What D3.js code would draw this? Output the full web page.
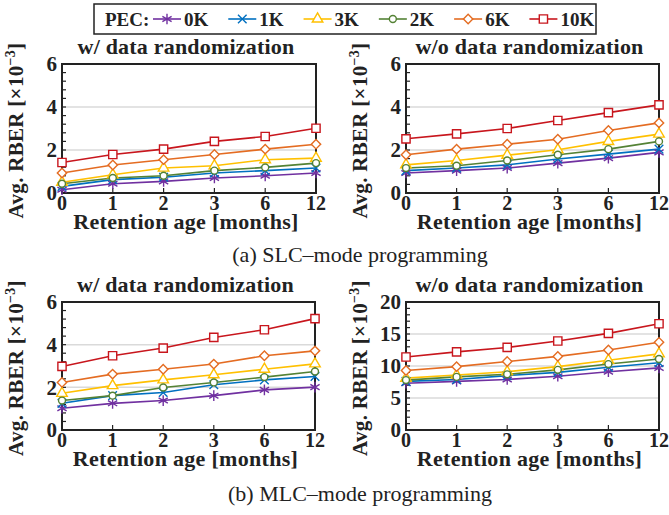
<!DOCTYPE html>
<html>
<head>
<meta charset="utf-8">
<script src="https://cdn.jsdelivr.net/npm/d3@7"></script>
<style>
  body { margin: 0; background: #fff; }
  svg text { font-family: "Liberation Serif", "Times New Roman", serif; fill: #222; }
</style>
</head>
<body>
<div id="app"></div>
<script>
// retention ages (x categories) and PEC series names
const ages = ["0", "1", "2", "3", "6", "12"];
const series = ["0K", "1K", "3K", "2K", "6K", "10K"];
const colors = ["#7030a0", "#0070c0", "#ffc000", "#548235", "#e46c22", "#c8161d"];
const markers = ["asterisk", "times", "triangle", "circle", "diamond", "square"];

// avg RBER [x10^-3], one row per PEC series (same order as `series`)
const slcRand = [
  [0.15, 0.43, 0.54, 0.70, 0.80, 0.93],
  [0.31, 0.62, 0.73, 0.93, 1.04, 1.16],
  [0.50, 0.85, 1.16, 1.27, 1.55, 1.62],
  [0.43, 0.70, 0.80, 1.04, 1.19, 1.39],
  [0.93, 1.30, 1.55, 1.79, 2.04, 2.27],
  [1.42, 1.79, 2.04, 2.40, 2.63, 3.01]
];
const slcNoRand = [
  [0.93, 1.04, 1.16, 1.39, 1.62, 1.89],
  [1.04, 1.16, 1.31, 1.58, 1.81, 2.04],
  [1.31, 1.51, 1.76, 2.01, 2.40, 2.74],
  [1.16, 1.27, 1.51, 1.78, 2.04, 2.40],
  [1.78, 2.04, 2.27, 2.50, 2.91, 3.26],
  [2.52, 2.75, 3.00, 3.37, 3.74, 4.10]
];
const mlcRand = [
  [1.02, 1.25, 1.38, 1.61, 1.88, 2.01],
  [1.25, 1.61, 1.76, 2.12, 2.35, 2.51],
  [1.72, 2.08, 2.35, 2.59, 2.85, 3.10],
  [1.38, 1.61, 1.99, 2.23, 2.48, 2.74],
  [2.23, 2.62, 2.85, 3.09, 3.48, 3.71],
  [2.98, 3.48, 3.84, 4.34, 4.70, 5.22]
];
const mlcNoRand = [
  [7.3, 7.6, 7.9, 8.4, 9.1, 9.7],
  [7.6, 7.9, 8.5, 9.0, 9.8, 10.5],
  [8.1, 8.6, 9.1, 9.9, 10.9, 11.9],
  [7.8, 8.3, 8.7, 9.4, 10.3, 11.1],
  [9.3, 9.9, 10.7, 11.5, 12.5, 13.7],
  [11.4, 12.2, 12.9, 13.9, 15.1, 16.6]
];

const titles = ["w/ data randomization", "w/o data randomization"];
const captions = ["(a) SLC\u2013mode programming", "(b) MLC\u2013mode programming"];

const W = 669, H = 515;
const FS = 21; // bold label size
const svg = d3.select("#app").append("svg")
  .attr("width", W).attr("height", H)
  .style("background", "#fff");

// marker shapes
function markerPath(kind) {
  const pick = {
    asterisk: d3.symbolAsterisk, times: d3.symbolTimes || d3.symbolX,
    triangle: d3.symbolTriangle, circle: d3.symbolCircle,
    diamond: d3.symbolSquare, square: d3.symbolSquare
  };
  const size = { asterisk: 80, times: 50, triangle: 48, circle: 38, diamond: 44, square: 68 };
  return d3.symbol(pick[kind], size[kind])();
}

const panels = [
  { data: slcRand,   title: titles[0], ymax: 6,  major: 2, left: 62,  right: 316, top: 64,  bottom: 193 },
  { data: slcNoRand, title: titles[1], ymax: 6,  major: 2, left: 406, right: 659, top: 64,  bottom: 193 },
  { data: mlcRand,   title: titles[0], ymax: 6,  major: 2, left: 62,  right: 315, top: 302, bottom: 430 },
  { data: mlcNoRand, title: titles[1], ymax: 20, major: 5, left: 406, right: 659, top: 302, bottom: 430 }
];

panels.forEach((p) => {
  const x = d3.scalePoint().domain(ages).range([p.left, p.right]);
  const y = d3.scaleLinear().domain([0, p.ymax]).range([p.bottom, p.top]);
  const g = svg.append("g");

  // gridlines
  g.append("g").selectAll("line")
    .data(d3.range(p.major, p.ymax, p.major))
    .join("line")
    .attr("x1", p.left).attr("x2", p.right)
    .attr("y1", (d) => y(d)).attr("y2", (d) => y(d))
    .attr("stroke", "#dadada").attr("stroke-width", 1.5);

  // inner ticks on y axis (minor every major/5)
  g.append("g").selectAll("line")
    .data(d3.range(0, p.ymax + 1e-9, p.major / 5))
    .join("line")
    .attr("x1", p.left).attr("x2", p.left + 4)
    .attr("y1", (d) => y(d)).attr("y2", (d) => y(d))
    .attr("stroke", "#222").attr("stroke-width", 1.2);

  // x ticks
  g.append("g").selectAll("line")
    .data(ages)
    .join("line")
    .attr("x1", (d) => x(d)).attr("x2", (d) => x(d))
    .attr("y1", p.bottom).attr("y2", p.bottom - 5)
    .attr("stroke", "#222").attr("stroke-width", 1.2);

  // frame
  g.append("rect")
    .attr("x", p.left).attr("y", p.top)
    .attr("width", p.right - p.left).attr("height", p.bottom - p.top)
    .attr("fill", "none").attr("stroke", "#222").attr("stroke-width", 2);

  // tick labels
  g.append("g").selectAll("text")
    .data(d3.range(0, p.ymax + 1e-9, p.major))
    .join("text")
    .attr("x", p.left - 5).attr("y", (d) => y(d))
    .attr("dy", "0.35em").attr("text-anchor", "end")
    .attr("font-size", FS).attr("font-weight", "bold")
    .text((d) => d);

  g.append("g").selectAll("text")
    .data(ages)
    .join("text")
    .attr("x", (d) => x(d)).attr("y", p.bottom + 17)
    .attr("text-anchor", "middle")
    .attr("font-size", 20).attr("font-weight", "bold")
    .text((d) => d);

  // axis titles
  g.append("text")
    .attr("x", (p.left + p.right) / 2 - 3).attr("y", p.bottom + 36)
    .attr("text-anchor", "middle")
    .attr("font-size", 22).attr("font-weight", "bold")
    .attr("letter-spacing", 0.3)
    .text("Retention age [months]");

  const yl = g.append("text")
    .attr("transform", `translate(${p.left - 39},${(p.top + p.bottom) / 2 + 2}) rotate(-90)`)
    .attr("text-anchor", "middle")
    .attr("font-size", FS).attr("font-weight", "bold")
    .attr("letter-spacing", 0.3);
  yl.append("tspan").text("Avg. RBER [\u00d710");
  yl.append("tspan").attr("dy", -8).attr("font-size", 14).text("\u22123");
  yl.append("tspan").attr("dy", 8).text("]");

  g.append("text")
    .attr("x", (p.left + p.right) / 2 - 3).attr("y", p.top - 10)
    .attr("text-anchor", "middle")
    .attr("font-size", 22).attr("font-weight", "bold")
    .attr("letter-spacing", 0.2)
    .text(p.title);

  // lines + markers
  const line = d3.line().x((d, i) => x(ages[i])).y((d) => y(d));
  p.data.forEach((vals, si) => {
    g.append("path")
      .attr("d", line(vals))
      .attr("fill", "none").attr("stroke", colors[si]).attr("stroke-width", 1.6);
  });
  p.data.forEach((vals, si) => {
    const k = markers[si];
    g.append("g").selectAll("path")
      .data(vals)
      .join("path")
      .attr("d", markerPath(k))
      .attr("transform", (d, i) => `translate(${x(ages[i])},${y(d)})` + (k === "diamond" ? " rotate(45)" : ""))
      .attr("fill", (k === "asterisk" || k === "times") ? "none" : "#fff")
      .attr("stroke", colors[si]).attr("stroke-width", 1.4);
  });
});

// captions
svg.selectAll("text.caption")
  .data(captions)
  .join("text")
  .attr("class", "caption")
  .attr("x", 360).attr("y", (d, i) => (i === 0 ? 262 : 501))
  .attr("text-anchor", "middle")
  .attr("font-size", 22)
  .text((d) => d);

// legend
const lg = svg.append("g");
lg.append("rect")
  .attr("x", 94).attr("y", 4).attr("width", 502).attr("height", 30)
  .attr("fill", "#fff").attr("stroke", "#222").attr("stroke-width", 1.5);
lg.append("text")
  .attr("x", 105).attr("y", 26)
  .attr("font-size", 19).attr("font-weight", "bold")
  .text("PEC:");
let lx = 153;
series.forEach((name, si) => {
  const it = lg.append("g");
  it.append("line")
    .attr("x1", lx).attr("x2", lx + 28).attr("y1", 19).attr("y2", 19)
    .attr("stroke", colors[si]).attr("stroke-width", 1.6);
  const k = markers[si];
  it.append("path")
    .attr("d", markerPath(k))
    .attr("transform", `translate(${lx + 14},19)` + (k === "diamond" ? " rotate(45)" : ""))
    .attr("fill", (k === "asterisk" || k === "times") ? "none" : "#fff")
    .attr("stroke", colors[si]).attr("stroke-width", 1.4);
  const t = it.append("text")
    .attr("x", lx + 31).attr("y", 26)
    .attr("font-size", 19).attr("font-weight", "bold")
    .text(name);
  lx += 31 + t.node().getComputedTextLength() + 20;
});
</script>
</body>
</html>
